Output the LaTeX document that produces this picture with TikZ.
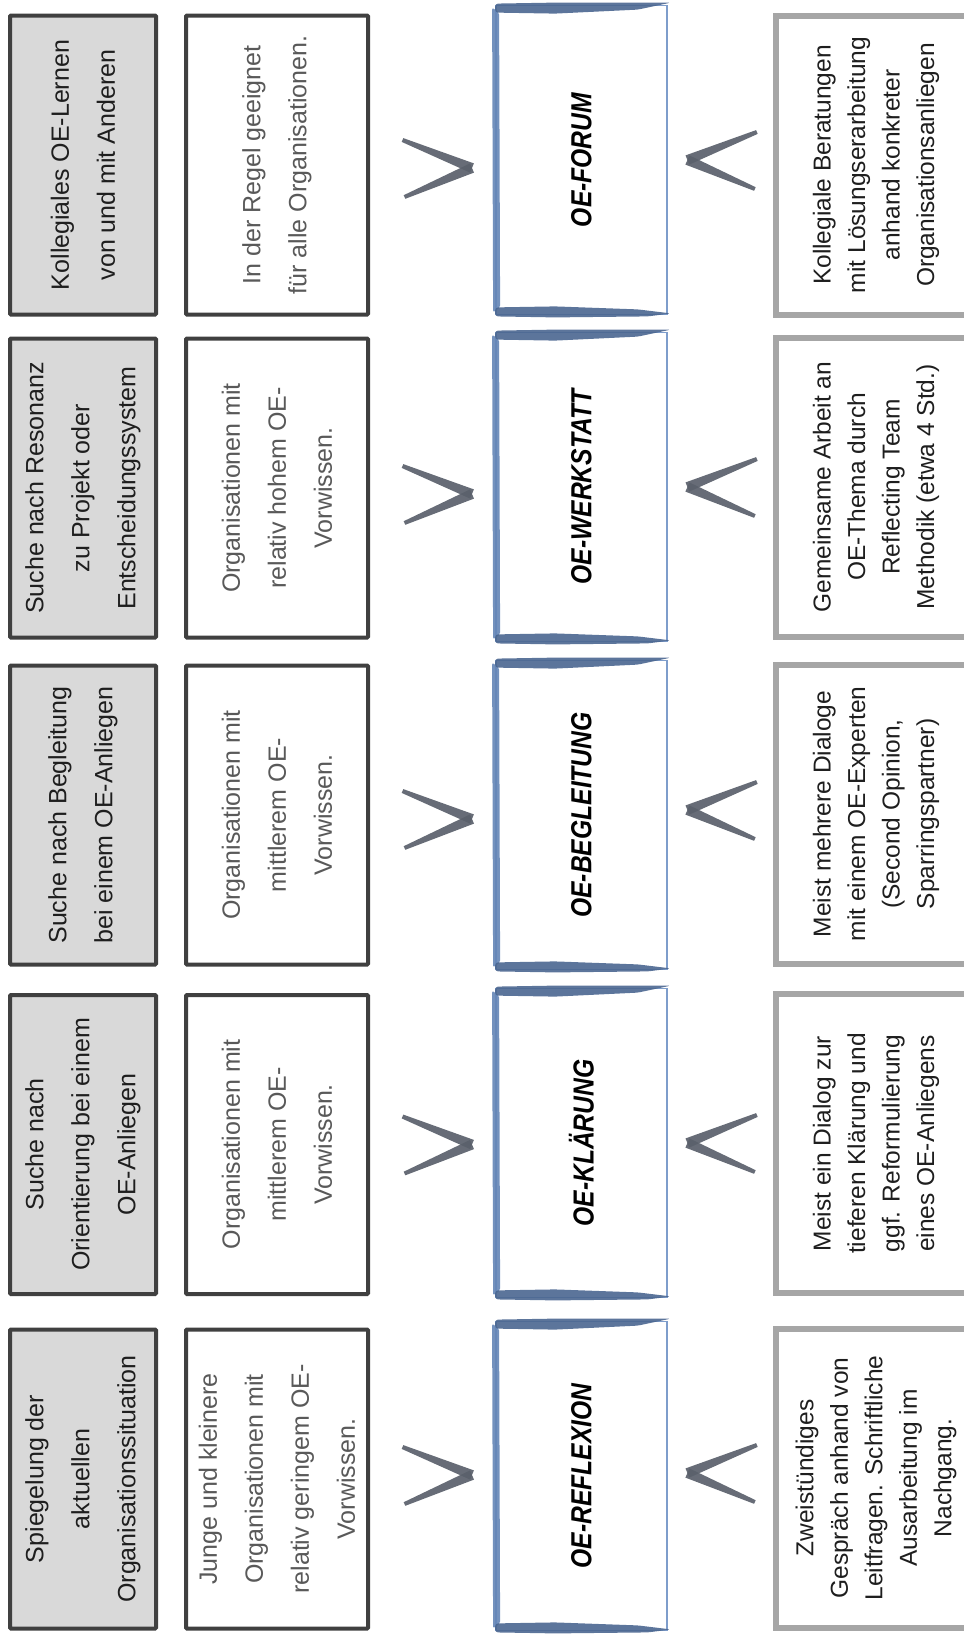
\documentclass[tikz,border=0pt]{standalone}
\usepackage{fontspec}
\setmainfont{Liberation Sans}
\newfontfamily\handfont[FakeStretch=0.85]{Liberation Sans}
\usetikzlibrary{positioning}

\definecolor{boxgrey}{HTML}{D9D9D9}
\definecolor{darkline}{HTML}{404040}
\definecolor{textdark}{HTML}{1E1E1E}
\definecolor{textgrey}{HTML}{595959}
\definecolor{offerline}{HTML}{A6A6A6}
\definecolor{sketchlight}{HTML}{7E9DCB}
\definecolor{sketchmid}{HTML}{6485B6}
\definecolor{sketchdark}{HTML}{4A6690}
\definecolor{chevgrey}{HTML}{5A606B}

\tikzset{
  need/.style={draw=darkline, fill=boxgrey, line width=4pt, rounded corners=1pt,
    rotate=90, minimum width=299pt, minimum height=146pt, align=center,
    text=textdark, font=\fontsize{25}{46}\selectfont},
  who/.style={need, fill=white, minimum height=182pt, text=textgrey},
  offer/.style={draw=offerline, line width=6pt, rotate=90, minimum width=299pt,
    minimum height=200pt, align=center, text=textdark,
    font=\fontsize{24.5}{34.5}\selectfont},
  format/.style={draw=sketchlight, line width=1.8pt, minimum width=171pt,
    minimum height=309pt, text=black,
    font=\handfont\bfseries\itshape\fontsize{29}{30}\selectfont},
  brushfill/.style={fill=sketchdark, opacity=0.9, rounded corners=3pt},
  brushside/.style={fill=sketchmid, opacity=0.9, rounded corners=2pt},
  chev/.style={fill=chevgrey, opacity=0.92},
  gtchev/.pic={
    \fill[chev] (-34.2,29.9) -- (36.4,4.6) -- (32.6,-4.6) -- (-35.8,26.1) -- cycle;
    \fill[chev] (-33.8,-27.2) -- (32.5,4.6) -- (36.5,-4.6) -- (-32.2,-30.8) -- cycle;
  }
}

\begin{document}
\begin{tikzpicture}[x=1pt,y=1pt]
\useasboundingbox (0,0) rectangle (964,-1634);
\clip (0,0) rectangle (964,-1634);

% OE-Forum
\node[need] (A1) at (83,-165) {Kollegiales OE-Lernen\\von und mit Anderen};
\node[who] (Z1) at ([shift={+(194,0)}]A1) {In der Regel geeignet\\für alle Organisationen.};
\node[format] (F1) at ([shift={+(498.5,5)}]A1) {\rotatebox{90}{OE-FORUM}};
\node[offer] (L1) at ([shift={+(793,0)}]A1) {Kollegiale Beratungen\\mit Lösungserarbeitung\\anhand konkreter\\Organisationsanliegen};
\pic at ([shift={+(354.5,-3)}]A1) {gtchev};
\pic[xscale=-1] at ([shift={+(54,0)}]F1.east) {gtchev};

% OE-Werkstatt
\node[need] (A2) at (83,-488) {Suche nach Resonanz\\zu Projekt oder\\Entscheidungssystem};
\node[who] (Z2) at ([shift={+(194,0)}]A2) {Organisationen mit\\relativ hohem OE-\\Vorwissen.};
\node[format] (F2) at ([shift={+(498.5,1)}]A2) {\rotatebox{90}{OE-WERKSTATT}};
\node[offer] (L2) at ([shift={+(793,1)}]A2) {Gemeinsame Arbeit an\\OE-Thema durch\\Reflecting Team\\Methodik (etwa 4 Std.)};
\pic at ([shift={+(354.5,-6)}]A2) {gtchev};
\pic[xscale=-1] at ([shift={+(54,0)}]F2.east) {gtchev};

% OE-Begleitung
\node[need] (A3) at (83,-815) {Suche nach Begleitung\\bei einem OE-Anliegen};
\node[who] (Z3) at ([shift={+(194,0)}]A3) {Organisationen mit\\mittlerem OE-\\Vorwissen.};
\node[format] (F3) at ([shift={+(498.5,0)}]A3) {\rotatebox{90}{OE-BEGLEITUNG}};
\node[offer] (L3) at ([shift={+(793,1)}]A3) {Meist mehrere Dialoge\\mit einem OE-Experten\\(Second Opinion,\\Sparringspartner)};
\pic at ([shift={+(354.5,-4)}]A3) {gtchev};
\pic[xscale=-1] at ([shift={+(54,5)}]F3.east) {gtchev};

% OE-Klaerung
\node[need] (A4) at (83,-1144.5) {Suche nach\\Orientierung bei einem\\OE-Anliegen};
\node[who] (Z4) at ([shift={+(194,0)}]A4) {Organisationen mit\\mittlerem OE-\\Vorwissen.};
\node[format] (F4) at ([shift={+(498.5,1.5)}]A4) {\rotatebox{90}{OE-KLÄRUNG}};
\node[offer] (L4) at ([shift={+(793,1)}]A4) {Meist ein Dialog zur\\tieferen Klärung und\\ggf. Reformulierung\\eines OE-Anliegens};
\pic at ([shift={+(354.5,0)}]A4) {gtchev};
\pic[xscale=-1] at ([shift={+(54,0)}]F4.east) {gtchev};

% OE-Reflexion
\node[need] (A5) at (83,-1479) {Spiegelung der\\aktuellen\\Organisationssituation};
\node[who] (Z5) at ([shift={+(194,0)}]A5) {Junge und kleinere\\Organisationen mit\\relativ geringem OE-\\Vorwissen.};
\node[format] (F5) at ([shift={+(498.5,3)}]A5) {\rotatebox{90}{OE-REFLEXION}};
\node[offer] (L5) at ([shift={+(793,1)}]A5) {Zweistündiges\\Gespräch anhand von\\Leitfragen. Schriftliche\\Ausarbeitung im\\Nachgang.};
\pic at ([shift={+(354.5,4)}]A5) {gtchev};
\pic[xscale=-1] at ([shift={+(54,3)}]F5.east) {gtchev};

% brush strokes on the format boxes
\foreach \f in {F1,F2,F3,F4,F5}{
  \fill[brushside] ([shift={(-3,-3)}]\f.north west) -- ([shift={(4,-8)}]\f.north west)
    -- ([shift={(5,8)}]\f.south west) -- ([shift={(-2,3)}]\f.south west) -- cycle;
  \fill[brushfill] ([shift={(0,1)}]\f.north west) -- ([shift={(60,2)}]\f.north west)
    -- ([shift={(3,2)}]\f.north east) -- ([shift={(-30,-5)}]\f.north east)
    -- ([shift={(60,-9)}]\f.north west) -- ([shift={(0,-8)}]\f.north west) -- cycle;
  \fill[brushfill] ([shift={(0,-1)}]\f.south west) -- ([shift={(60,-2)}]\f.south west)
    -- ([shift={(-20,-1)}]\f.south east) -- ([shift={(3,2)}]\f.south east)
    -- ([shift={(-30,6)}]\f.south east) -- ([shift={(60,9)}]\f.south west)
    -- ([shift={(0,8)}]\f.south west) -- cycle;
}
\end{tikzpicture}
\end{document}
